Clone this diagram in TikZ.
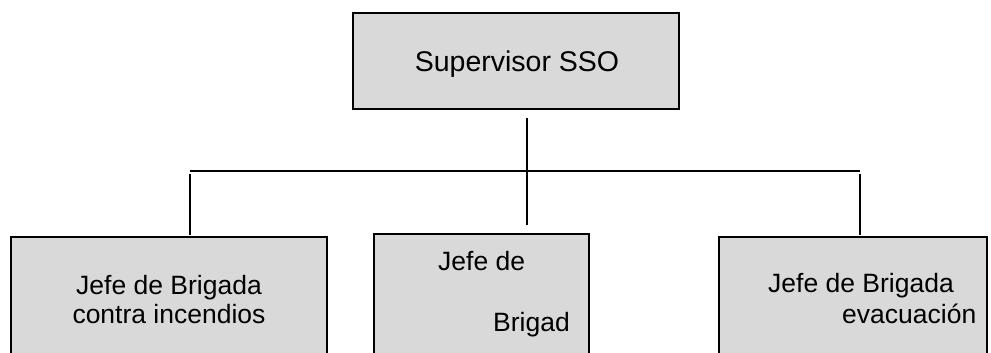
\documentclass[tikz,border=0pt]{standalone}
\usepackage{fontspec}
\setmainfont{Liberation Sans}
\definecolor{boxgray}{HTML}{D9D9D9}
\begin{document}
\begin{tikzpicture}[x=1pt,y=-1pt,
  orgbox/.style={draw=black,fill=boxgray,line width=1.6pt},
  conn/.style={draw=black,line width=1.5pt},
  lbl/.style={inner sep=0pt,anchor=base,font=\fontsize{26.5}{30}\selectfont},
  lblw/.style={inner sep=0pt,anchor=base west,font=\fontsize{26.5}{30}\selectfont}]
\useasboundingbox (0,0) rectangle (991,353);
\clip (0,0) rectangle (991,353);
% boxes
\path[orgbox] (353,13) rectangle (679,109);
\coordinate (topc) at (516,13);
\path[orgbox] (11,237) rectangle (327,370);
\path[orgbox] (374,234) rectangle (589,370);
\path[orgbox] (719,237) rectangle (987,370);
% texts
\node[lbl,font=\fontsize{28.5}{32}\selectfont] (sup) at (517,71) {Supervisor SSO};
\node[lbl] (l1) at (169,294) {Jefe de Brigada};
\node[lbl] (l2) at (169,323) {contra incendios};
\node[lblw] (m1) at (438,270) {Jefe de};
\node[lblw] (m2) at (493,331) {Brigad};
\node[lblw] (r1) at (768,292) {Jefe de Brigada};
\node[lblw] (r2) at (842,323) {evacuación};
% connectors
\coordinate (vt) at (527,118);
\coordinate (vb) at (527,225);
\coordinate (hl) at (190,171);
\coordinate (hr) at (860,171);
\coordinate (dlt) at (190,174);
\coordinate (dlb) at (190,235);
\coordinate (drt) at (860,174);
\coordinate (drb) at (860,235);
\draw[conn] (vt) -- (vb);
\draw[conn] (hl) -- (hr);
\draw[conn] (dlt) -- (dlb);
\draw[conn] (drt) -- (drb);
\end{tikzpicture}
\end{document}
